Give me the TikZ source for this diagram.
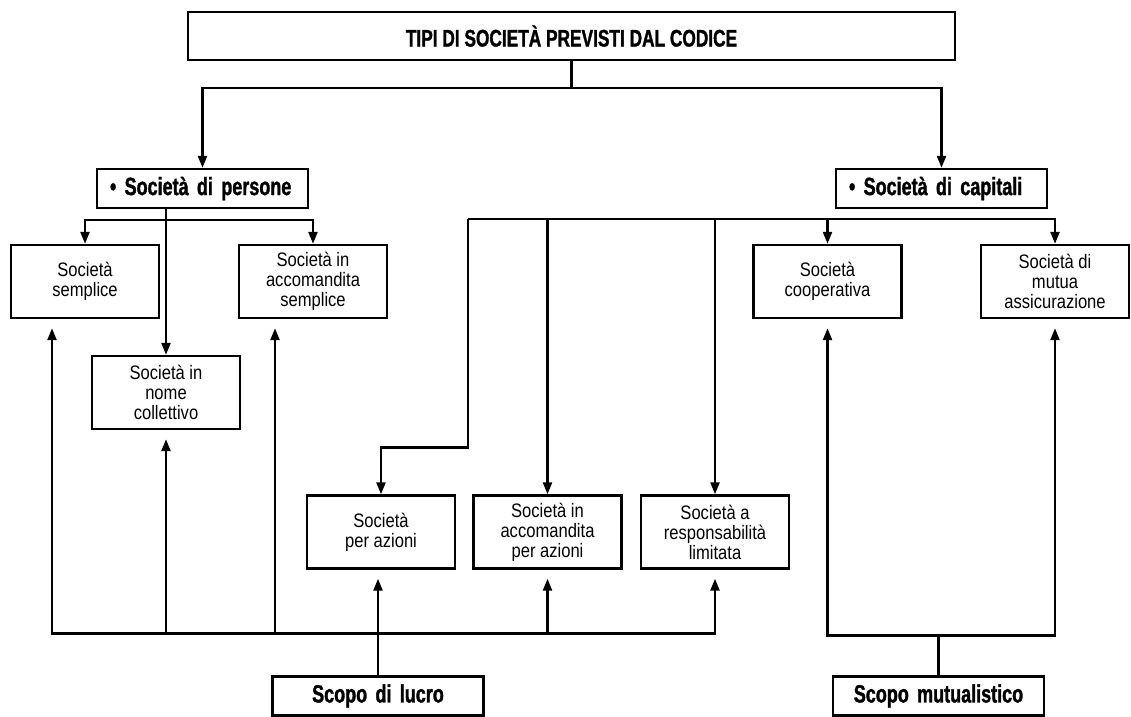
\documentclass[tikz,border=0pt]{standalone}
\usepackage{fontspec}
\newfontfamily\bodyfont{Liberation Sans}[FakeStretch=0.85]
\newfontfamily\headfont{Liberation Sans}[FakeStretch=0.72, BoldFeatures={FakeBold=1.3}]
\usetikzlibrary{arrows.meta,calc,positioning}

\begin{document}
\begin{tikzpicture}[x=1pt,y=-1pt,line width=2.4pt,>={Triangle[length=12pt,width=9pt]}]
		\tikzstyle{every node}=[font=\bodyfont\fontsize{19.5}{20}\selectfont]
		\tikzstyle{box}=[draw, minimum width=148pt, minimum height=73pt, align=center, inner sep=0pt]
		\tikzstyle{head}=[draw, text width=185pt, inner xsep=13pt, minimum height=39pt, font=\headfont\bfseries\fontsize{25}{27}\selectfont]
		\tikzstyle{upar}=[->, shorten >=9pt]
		\useasboundingbox (0,0) rectangle (1131,716);
		\node [draw, minimum width=767pt, minimum height=48pt, font=\headfont\bfseries\fontsize{24}{26}\selectfont] (title) at (571.5,36) {TIPI DI SOCIETÀ PREVISTI DAL CODICE};
		\node [head, align=left] (persone) at (202.5,188.5) {• Società di persone};
		\node [head, align=left] (capitali) at (941.5,188.5) {• Società di capitali};
		\node [box] (semplice) at (85,281.5) {Società\\semplice};
		\node [box] (accsemp) at (313,281.5) {Società in\\accomandita\\semplice};
		\node [box] (nomecoll) at (166,392.5) {Società in\\nome\\collettivo};
		\node [box] (coop) at (827.5,281.5) {Società\\cooperativa};
		\node [box] (mutua) at (1055,281.5) {Società di\\mutua\\assicurazione};
		\node [box] (spa) at (381,532) {Società\\per azioni};
		\node [box] (sapa) at (547.5,532) {Società in\\accomandita\\per azioni};
		\node [box] (srl) at (715,532) {Società a\\responsabilità\\limitata};
		\node [head, align=center] (lucro) at (378,696) {Scopo di lucro};
		\node [head, align=center] (mutual) at (938.5,696) {Scopo mutualistico};
		\draw (title.south) -- ++(0,27) coordinate (t1);
		\draw [->] (t1) -| (persone.north);
		\draw [->] (t1) -| (capitali.north);
		\draw [->] (persone.south -| nomecoll.north) -- (nomecoll.north);
		\path (persone.south -| nomecoll.north) ++(0,11) coordinate (p1);
		\draw [->] (p1) -| (semplice.north);
		\draw [->] (p1) -| (accsemp.north);
		\coordinate (c1) at (468,219);
		\draw [->] (c1) |- ($(spa.north)+(0,-47)$) -- (spa.north);
		\draw [->] (c1) -| (mutua.north);
		\foreach \n in {sapa,srl,coop} \draw [->] (c1 -| \n.north) -- (\n.north);
		\draw [upar] (lucro.north) -- (lucro.north |- spa.south);
		\path (lucro.north) ++(0,-42) coordinate (l1);
		\draw [upar] (l1) -| ($(semplice.south)+(-33,0)$);
		\draw [upar] (l1) -| (nomecoll.south);
		\draw [upar] (l1) -| ($(accsemp.south)+(-38,0)$);
		\draw [upar] (l1) -| (sapa.south);
		\draw [upar] (l1) -| (srl.south);
		\draw (mutual.north) -- ++(0,-40) coordinate (m1);
		\draw [upar] (m1) -| (coop.south);
		\draw [upar] (m1) -| (mutua.south);
	\end{tikzpicture}
\end{document}
